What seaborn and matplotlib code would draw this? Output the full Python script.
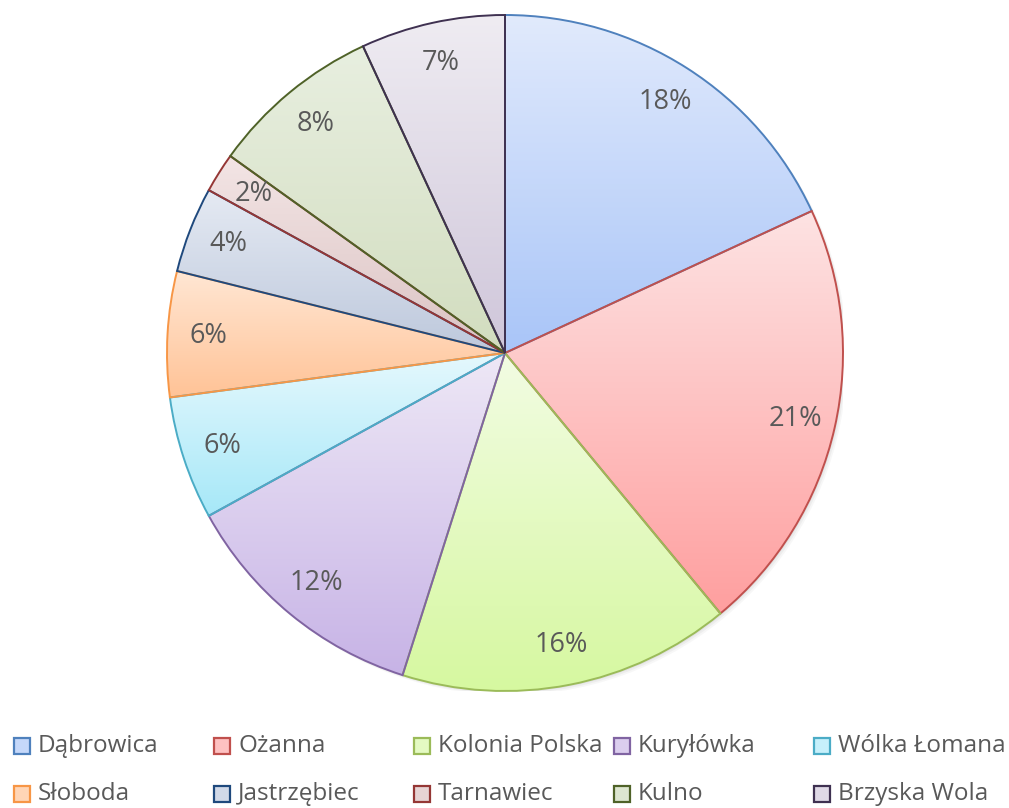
import numpy as np
import matplotlib
matplotlib.use("Agg")
import matplotlib.pyplot as plt
import seaborn as sns
from matplotlib.patches import Rectangle, Circle

sns.set_style("white")
plt.rcParams['font.family'] = ['Open Sans', 'DejaVu Sans']

# ---- data ----
villages = ["Dąbrowica", "Ożanna", "Kolonia Polska", "Kuryłówka", "Wólka Łomana",
            "Słoboda", "Jastrzębiec", "Tarnawiec", "Kulno", "Brzyska Wola"]
shares = [18.1, 20.9, 15.9, 12.1, 5.9, 6.0, 4.1, 1.9, 8.2, 6.9]

# gradient top / bottom and outline colours per slice
top_colors = ["#e1eafc", "#fde3e3", "#f2fce3", "#eee8f6", "#e5f8fd",
              "#ffe7d4", "#e5eaf3", "#f3e5e5", "#e8efe0", "#efecf2"]
bottom_colors = ["#a9c5f8", "#ff9f9f", "#d6f8a0", "#c7b3e6", "#a6e8f8",
                 "#ffc397", "#bdc8dc", "#dbc3c3", "#d2ddbf", "#cfc6da"]
edge_colors = ["#4f81bd", "#c0504d", "#9bbb59", "#8064a2", "#4bacc6",
               "#f79646", "#1f497d", "#953735", "#4f6228", "#3f3151"]
text_color = "#595959"

fig = plt.figure(figsize=(10.09, 8.08), dpi=100)
ax = fig.add_axes([167 / 1009, 117 / 808, 676 / 1009, 676 / 808])

# soft drop shadow
for off, a in [(0.012, 0.06), (0.008, 0.08), (0.004, 0.10)]:
    ax.add_patch(Circle((off, -off), 1.0, color="#7f7f7f", alpha=a, lw=0, zorder=0))

wedges, texts, autotexts = ax.pie(
    shares, startangle=90, counterclock=False, radius=1,
    autopct='%.0f%%', pctdistance=0.88,
    wedgeprops=dict(linewidth=1.4),
    textprops=dict(color=text_color, fontsize=19.5),
)

# gradient fill per slice, clipped to its wedge
for w, c_top, c_bot, c_edge in zip(wedges, top_colors, bottom_colors, edge_colors):
    w.set_facecolor("none")
    w.set_edgecolor(c_edge)
    w.set_zorder(3)
    th = np.radians(np.linspace(w.theta1, w.theta2, 200))
    xs = np.concatenate([[0], np.cos(th)])
    ys = np.concatenate([[0], np.sin(th)])
    t = np.linspace(0, 1, 256)[:, None, None]
    rgb_top = np.array(matplotlib.colors.to_rgb(c_top))
    rgb_bot = np.array(matplotlib.colors.to_rgb(c_bot))
    grad = (1 - t) * rgb_top + t * rgb_bot
    im = ax.imshow(grad, extent=(xs.min(), xs.max(), ys.min(), ys.max()),
                   origin="upper", aspect="auto", interpolation="bilinear", zorder=2)
    im.set_clip_path(w)

for at in autotexts:
    at.set_zorder(5)

ax.set_xlim(-1, 1)
ax.set_ylim(-1, 1)
ax.set_aspect("equal")
ax.axis("off")

# legend: two rows of five evenly spaced entries
col_x = [14, 214, 414, 614, 814]
row_y = [746, 794]
for i, name in enumerate(villages):
    r, c = divmod(i, 5)
    x = col_x[c] / 1009
    y = 1 - row_y[r] / 808
    sq = 16
    mid = 0.5 * (np.array(matplotlib.colors.to_rgb(top_colors[i]))
                 + np.array(matplotlib.colors.to_rgb(bottom_colors[i])))
    fig.add_artist(Rectangle((x, y - sq / 2 / 808), sq / 1009, sq / 808,
                             transform=fig.transFigure,
                             facecolor=mid, edgecolor=edge_colors[i], lw=1.6))
    fig.text(x + 24 / 1009, y, name, color=text_color, fontsize=17.5,
             va="center", ha="left")

fig.savefig("out.png", dpi=100)
